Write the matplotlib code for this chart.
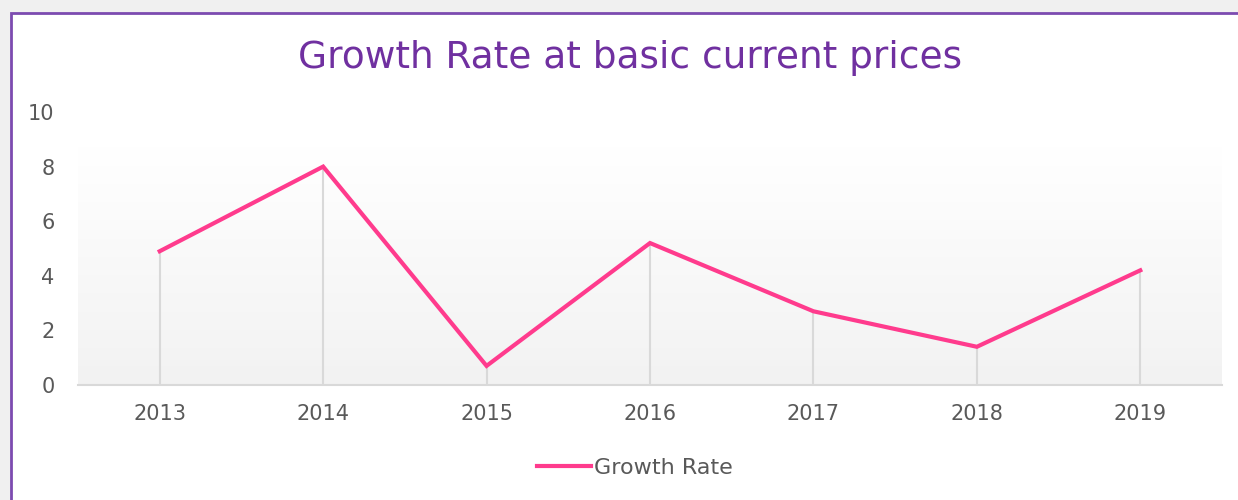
import numpy as np
import matplotlib
matplotlib.use("Agg")
import matplotlib.pyplot as plt
from matplotlib.patches import Rectangle
from matplotlib.colors import LinearSegmentedColormap

years = ["2013", "2014", "2015", "2016", "2017", "2018", "2019"]
growth_rate = [4.9, 8.0, 0.7, 5.2, 2.7, 1.4, 4.2]
y_ticks = [0, 2, 4, 6, 8, 10]

W, H = 1238, 500
fig = plt.figure(figsize=(W / 100, H / 100), dpi=100)
fig.patch.set_facecolor("#f0f0f0")

# chart box
box = Rectangle((11 / W, -0.1), 1.2, 1 - 13 / H + 0.1, transform=fig.transFigure,
                facecolor="white", edgecolor="#7c4bb0", linewidth=2, zorder=-10)
fig.add_artist(box)

ax = fig.add_axes([78 / W, 1 - 385 / H, (1222 - 78) / W, (385 - 112) / H])
ax.set_zorder(1)
ax.set_facecolor("none")
x = np.arange(len(years))
ax.set_xlim(-0.5, len(years) - 0.5)
ax.set_ylim(0, 10)

# gradient plot area
cmap = LinearSegmentedColormap.from_list("g", ["#f2f2f2", "#ffffff"])
grad = np.linspace(0, 1, 256).reshape(-1, 1)
ax.imshow(grad, aspect="auto", cmap=cmap, origin="lower",
          extent=(-0.5, len(years) - 0.5, 0, 8.7), zorder=0)

ax.vlines(x, 0, growth_rate, colors="#d9d9d9", linewidth=1.5, zorder=1)
line, = ax.plot(x, growth_rate, color="#ff3b8d", linewidth=3, solid_joinstyle="miter",
                label="Growth Rate", zorder=3)

for s in ["top", "right", "left"]:
    ax.spines[s].set_visible(False)
ax.spines["bottom"].set_color("#d9d9d9")
ax.spines["bottom"].set_linewidth(1.5)
ax.set_xticks(x)
ax.set_xticklabels(years)
ax.set_yticks(y_ticks)
ax.tick_params(axis="both", length=0, colors="#595959", labelsize=15)
ax.tick_params(axis="x", pad=14)
ax.tick_params(axis="y", pad=17)

fig.text(630 / W, 1 - 58 / H, "Growth Rate at basic current prices", color="#7030a0",
         fontsize=27, ha="center", va="center")

fig.legend(handles=[line], loc="center", bbox_to_anchor=(635 / W, 1 - 468 / H), frameon=False,
           fontsize=16, labelcolor="#595959", handlelength=2.4, handletextpad=0.15)

fig.savefig("out.png", dpi=100, facecolor=fig.get_facecolor())
